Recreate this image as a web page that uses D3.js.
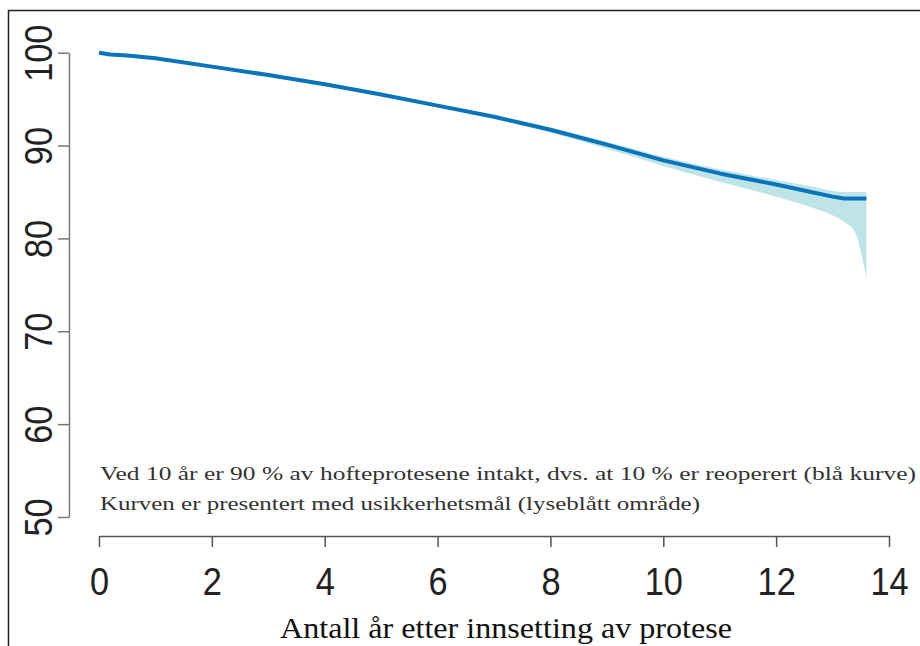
<!DOCTYPE html>
<html>
<head>
<meta charset="utf-8">
<script src="https://cdn.jsdelivr.net/npm/d3@7"></script>
<style>
  body { margin: 0; background: #fff; }
</style>
</head>
<body>
<div id="chart"></div>
<script>
// survival curve (years after implant -> % prostheses intact)
const years    = [0, 0.2, 0.5, 1, 2, 3, 4, 5, 6, 7, 8, 9, 10, 11, 12, 12.7, 13, 13.2, 13.35, 13.43, 13.5, 13.6];
const survival = [100, 99.8, 99.7, 99.4, 98.5, 97.6, 96.6, 95.5, 94.3, 93.1, 91.7, 90.1, 88.4, 87.0, 85.8, 84.9, 84.5, 84.3, 84.3, 84.3, 84.3, 84.3];
const upper    = [100, 99.9, 99.8, 99.5, 98.6, 97.7, 96.7, 95.6, 94.4, 93.3, 91.95, 90.4, 88.8, 87.45, 86.3, 85.5, 85.1, 85.0, 85.0, 85.0, 85.0, 85.0];
const lower    = [100, 99.7, 99.6, 99.3, 98.4, 97.5, 96.5, 95.4, 94.2, 92.9, 91.4, 89.65, 87.8, 86.1, 84.5, 83.2, 82.5, 81.8, 81.1, 80.2, 78.5, 75.7];

const xTicks = [0, 2, 4, 6, 8, 10, 12, 14];
const yTicks = [50, 60, 70, 80, 90, 100];

const noteLines = [
  "Ved 10 år er 90 % av hofteprotesene intakt, dvs. at 10 % er  reoperert (blå kurve)",
  "Kurven er presentert med usikkerhetsmål (lyseblått område)"
];
const xTitle = "Antall år etter innsetting av protese";

const data = years.map((t, i) => ({t: t, s: survival[i], hi: upper[i], lo: lower[i]}));

const width = 920, height = 646;

const svg = d3.select("#chart")
    .append("svg")
    .attr("width", width)
    .attr("height", height)

// outer frame (only top and left edges are inside the picture)
svg.append("rect")
    .attr("x", 8.5)
    .attr("y", 10.5)
    .attr("width", 930)
    .attr("height", 660)
    .attr("fill", "none")
    .attr("stroke", "#222")
    .attr("stroke-width", 1.5)

const x = d3.scaleLinear().domain([0, 14]).range([99, 889]);
const y = d3.scaleLinear().domain([50, 100]).range([517, 52.7]);

// confidence band
const band = d3.area()
    .x(d => x(d.t))
    .y0(d => y(d.lo))
    .y1(d => y(d.hi))
    .curve(d3.curveMonotoneX);

svg.append("path")
    .datum(data)
    .attr("d", band)
    .attr("fill", "#bfe4e7")

// survival line
const line = d3.line()
    .x(d => x(d.t))
    .y(d => y(d.s));

svg.append("path")
    .datum(data)
    .attr("d", line)
    .attr("fill", "none")
    .attr("stroke", "#0a74bb")
    .attr("stroke-width", 4)
    .attr("stroke-linejoin", "round")

// y axis
const yAxis = svg.append("g")
    .attr("transform", "translate(69,0)")
    .call(d3.axisLeft(y).tickValues(yTicks).tickSize(11).tickSizeOuter(0));

yAxis.selectAll("path, line").attr("stroke", "#777").attr("stroke-width", 1.5);
yAxis.selectAll("text")
    .attr("x", 0)
    .attr("y", -17)
    .attr("dy", null)
    .attr("text-anchor", "middle")
    .attr("transform", "rotate(-90) scale(0.88,1)")
    .attr("font-family", "Liberation Sans, Arial, sans-serif")
    .attr("font-size", 39)
    .attr("fill", "#222");

// x axis
const xAxis = svg.append("g")
    .attr("transform", "translate(0,536)")
    .call(d3.axisBottom(x).tickValues(xTicks).tickSize(11).tickSizeOuter(0));

xAxis.selectAll("path, line").attr("stroke", "#555").attr("stroke-width", 1.5);
xAxis.selectAll("text")
    .attr("x", 0)
    .attr("y", 59)
    .attr("dy", null)
    .attr("transform", "scale(0.88,1)")
    .attr("font-family", "Liberation Sans, Arial, sans-serif")
    .attr("font-size", 39)
    .attr("fill", "#222");

// notes
svg.selectAll(".note")
    .data(noteLines)
    .enter()
    .append("text")
    .attr("class", "note")
    .attr("x", 100)
    .attr("y", (d, i) => 480 + i * 30)
    .attr("font-family", "Liberation Serif, Times New Roman, serif")
    .attr("font-size", 19)
    .attr("fill", "#333")
    .attr("textLength", (d, i) => i === 0 ? 816 : 600)
    .attr("lengthAdjust", "spacingAndGlyphs")
    .text(d => d)

// x title
svg.append("text")
    .attr("x", 280)
    .attr("y", 638)
    .attr("font-family", "Liberation Serif, Times New Roman, serif")
    .attr("font-size", 29)
    .attr("fill", "#111")
    .attr("textLength", 452)
    .attr("lengthAdjust", "spacingAndGlyphs")
    .text(xTitle)
</script>
</body>
</html>
